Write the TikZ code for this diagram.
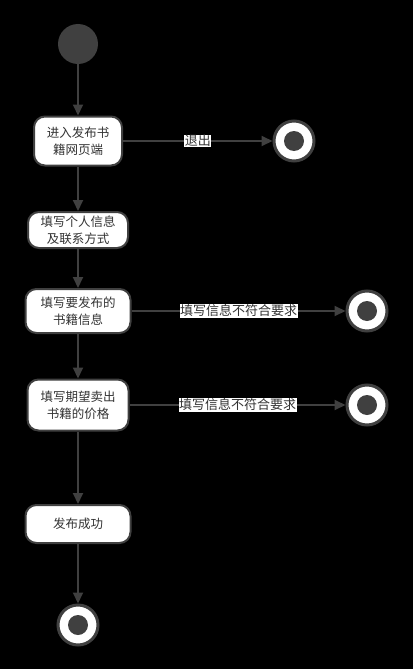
\documentclass[tikz,border=0pt]{standalone}
\usepackage{fontspec}
\newfontfamily\cjk{Noto Sans CJK SC}
\usetikzlibrary{arrows.meta}
\definecolor{linegray}{HTML}{404040}
\definecolor{textgray}{HTML}{333333}
\tikzset{
    activity/.style={draw=linegray, line width=2pt, fill=white, rounded corners=11pt,
        align=center, font=\cjk\fontsize{12.5}{17}\selectfont, text=textgray, inner sep=0pt},
    startdot/.style={circle, fill=linegray, minimum size=40pt, inner sep=0pt},
    enddot/.style={circle, draw=linegray, line width=3pt, fill=white, minimum size=40pt, inner sep=0pt,
        path picture={\fill[linegray] (path picture bounding box.center) circle (10pt);}},
    flow/.style={draw=linegray, line width=2pt, -{Triangle[length=11pt,width=10pt]}},
    guard/.style={fill=white, text=textgray, font=\cjk\fontsize{13}{14}\selectfont, inner sep=0.5pt}
}
\begin{document}
\begin{tikzpicture}[x=1pt, y=-1pt]
    % background
    \fill[black] (0,0) rectangle (413,669);
    \useasboundingbox (0,0) rectangle (413,669);
    % nodes
    \node[startdot] (start) at (78,44) {};
    \node[activity, minimum width=88pt, minimum height=49pt] (enter) at (78,141) {进入发布书\\籍网页端};
    \node[enddot] (quit) at (294,141) {};
    \node[activity, minimum width=100pt, minimum height=36pt] (info) at (78,230) {填写个人信息\\及联系方式};
    \node[activity, minimum width=105pt, minimum height=44pt] (book) at (78,311) {填写要发布的\\书籍信息};
    \node[enddot] (fail1) at (367,311) {};
    \node[activity, minimum width=101pt, minimum height=51pt] (price) at (78,405) {填写期望卖出\\书籍的价格};
    \node[enddot] (fail2) at (367,405) {};
    \node[activity, minimum width=105pt, minimum height=38pt] (done) at (78,524) {发布成功};
    \node[enddot] (stop) at (78,625) {};
    % connectors
    \draw[flow] (start) -- (enter);
    \draw[flow] (enter) -- (quit) node[guard, pos=0.5] {退出};
    \draw[flow] (enter) -- (info);
    \draw[flow] (info) -- (book);
    \draw[flow] (book) -- (fail1) node[guard, pos=0.5] {填写信息不符合要求};
    \draw[flow] (book) -- (price);
    \draw[flow] (price) -- (fail2) node[guard, pos=0.5] {填写信息不符合要求};
    \draw[flow] (price) -- (done);
    \draw[flow] (done) -- (stop);
\end{tikzpicture}
\end{document}
